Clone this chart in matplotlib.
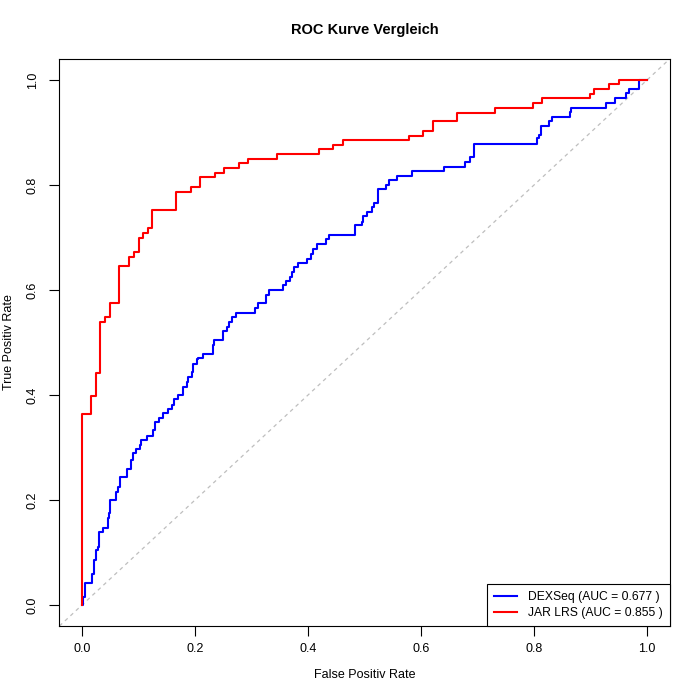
import matplotlib.pyplot as plt

plt.rcParams['font.family'] = ['Liberation Sans', 'DejaVu Sans']

# ROC Punkte (FPR, TPR) - Ecken der Treppenkurve
dex_fpr = [0.0, 0.002, 0.006, 0.017, 0.021, 0.025, 0.028, 0.030, 0.037, 0.046,
           0.048, 0.050, 0.061, 0.064, 0.067, 0.080, 0.086, 0.087, 0.091, 0.096,
           0.103, 0.104, 0.115, 0.126, 0.129, 0.137, 0.143, 0.152, 0.159, 0.162,
           0.169, 0.178, 0.179, 0.185, 0.188, 0.194, 0.197, 0.204, 0.206, 0.214,
           0.231, 0.234, 0.250, 0.256, 0.261, 0.265, 0.273, 0.306, 0.312, 0.325,
           0.331, 0.355, 0.361, 0.368, 0.371, 0.375, 0.383, 0.398, 0.405, 0.408,
           0.415, 0.432, 0.438, 0.483, 0.495, 0.498, 0.504, 0.513, 0.516, 0.523,
           0.538, 0.544, 0.557, 0.584, 0.641, 0.678, 0.686, 0.694, 0.806, 0.809,
           0.812, 0.827, 0.831, 0.863, 0.865, 0.927, 0.943, 0.963, 0.968, 0.985,
           0.986, 1.0]
dex_tpr = [0.0, 0.016, 0.042, 0.060, 0.086, 0.105, 0.111, 0.140, 0.147, 0.165,
           0.175, 0.200, 0.216, 0.225, 0.244, 0.260, 0.267, 0.276, 0.289, 0.297,
           0.305, 0.314, 0.322, 0.333, 0.349, 0.356, 0.365, 0.373, 0.381, 0.392,
           0.400, 0.406, 0.416, 0.425, 0.435, 0.443, 0.460, 0.468, 0.470, 0.478,
           0.495, 0.505, 0.521, 0.530, 0.540, 0.548, 0.556, 0.565, 0.575, 0.591,
           0.600, 0.610, 0.618, 0.625, 0.635, 0.643, 0.652, 0.660, 0.669, 0.678,
           0.687, 0.697, 0.705, 0.723, 0.730, 0.741, 0.748, 0.758, 0.765, 0.792,
           0.800, 0.810, 0.818, 0.827, 0.835, 0.844, 0.853, 0.878, 0.889, 0.895,
           0.912, 0.922, 0.930, 0.940, 0.947, 0.957, 0.965, 0.975, 0.983, 0.991,
           1.0, 1.0]

jar_fpr = [0.0, 0.0, 0.016, 0.024, 0.032, 0.041, 0.050, 0.066, 0.083, 0.092,
           0.100, 0.108, 0.116, 0.124, 0.167, 0.192, 0.209, 0.235, 0.251, 0.277,
           0.294, 0.345, 0.420, 0.445, 0.462, 0.579, 0.604, 0.621, 0.663, 0.731,
           0.798, 0.815, 0.899, 0.907, 0.933, 0.950, 1.0]
jar_tpr = [0.0, 0.363, 0.398, 0.442, 0.540, 0.549, 0.576, 0.646, 0.663, 0.673,
           0.700, 0.709, 0.718, 0.752, 0.787, 0.797, 0.815, 0.823, 0.832, 0.841,
           0.850, 0.859, 0.868, 0.877, 0.886, 0.894, 0.903, 0.921, 0.938, 0.947,
           0.956, 0.965, 0.974, 0.983, 0.992, 1.0, 1.0]

auc_dex = 0.677
auc_jar = 0.855

fig = plt.figure(figsize=(7, 7), dpi=100)
ax = fig.add_axes([0.0849, 0.1057, 0.8717, 0.81])

ax.plot([-0.04, 1.04], [-0.04, 1.04], color='#bebebe', linestyle=(0, (3, 3)), linewidth=0.9)
ax.plot(dex_fpr, dex_tpr, drawstyle='steps-post', color='blue', linewidth=1.5,
        label='DEXSeq (AUC = %.3f )' % auc_dex)
ax.plot(jar_fpr, jar_tpr, drawstyle='steps-post', color='red', linewidth=1.5,
        label='JAR LRS (AUC = %.3f )' % auc_jar)

ax.set_xlim(-0.04, 1.04)
ax.set_ylim(-0.04, 1.04)
ticks = [0.0, 0.2, 0.4, 0.6, 0.8, 1.0]
ax.set_xticks(ticks)
ax.set_yticks(ticks)
ax.set_xticklabels(['%.1f' % t for t in ticks])
ax.set_yticklabels(['%.1f' % t for t in ticks], rotation=90, va='center')
ax.tick_params(direction='out', length=7, labelsize=9, pad=5)
ax.tick_params(axis='y', pad=8)

ax.set_title('ROC Kurve Vergleich', fontsize=10.5, fontweight='bold', pad=18)
ax.set_xlabel('False Positiv Rate', fontsize=9, labelpad=10)
ax.set_ylabel('True Positiv Rate', fontsize=9, labelpad=8)

leg = ax.legend(loc='lower right', borderaxespad=0, fontsize=8.7, fancybox=False,
                framealpha=1, edgecolor='black', handlelength=1.9,
                handletextpad=0.9, borderpad=0.6, labelspacing=0.3)
leg.get_frame().set_linewidth(0.8)

plt.savefig('out.png', dpi=100)
